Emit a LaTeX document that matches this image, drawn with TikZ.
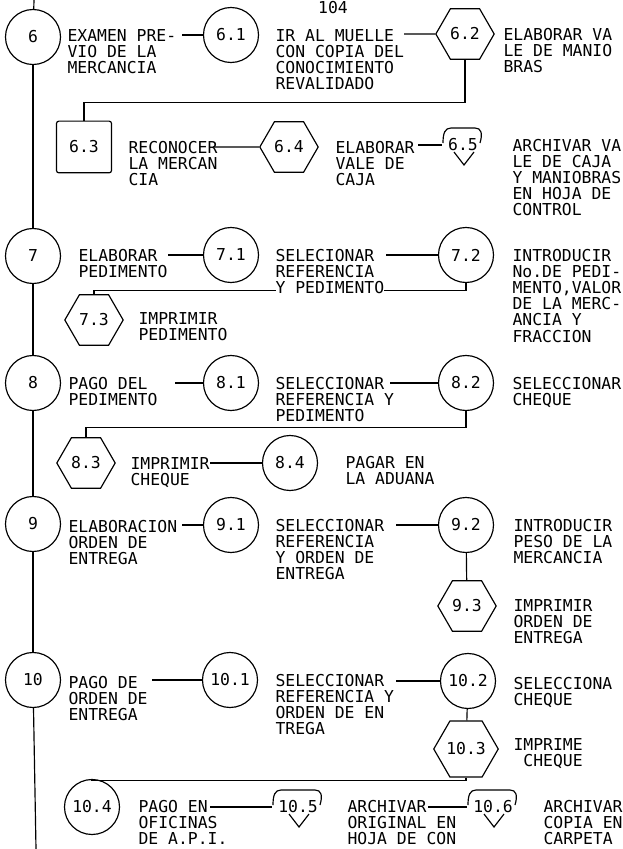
\documentclass[tikz,border=0pt]{standalone}
\usepackage{fontspec}
\setmainfont{DejaVu Sans Mono}
\usetikzlibrary{shapes.geometric}

\tikzset{
    paso/.style={circle, draw, minimum size=1.65cm, inner sep=0pt},
    hexa/.style={regular polygon, regular polygon sides=6, draw, minimum size=1.75cm, inner sep=0pt},
    caja/.style={rectangle, rounded corners=2pt, draw, minimum width=1.65cm, minimum height=1.55cm},
    texto/.style={anchor=north west, inner sep=0pt, align=left},
    marca/.style={inner sep=0pt, minimum width=1.2cm},
    archivo/.pic={
        \draw (-#1,-2) .. controls (-#1,-12) and (-#1+2,-17) .. (-#1+8,-17) -- (#1-8,-17)
              .. controls (#1-2,-17) and (#1,-12) .. (#1-3,-2);
        \draw (-9,7) -- (1,20) -- (11,7);
    }
}

\begin{document}
\begin{tikzpicture}[x=0.03cm, y=-0.03cm, line width=1pt, font=\fontsize{14}{13.7}\selectfont]
        \useasboundingbox (0,0) rectangle (623,849);

        \node at (333,8) (pag) {104};

        % paso 6
        \node[paso] at (33,37)   (p6)   {6};
        \node[paso] at (231,35)  (p61)  {6.1};
        \node[hexa] at (465,34)  (p62)  {6.2};
        \node[caja] at (84,147)  (p63)  {6.3};
        \node[hexa] at (289,147) (p64)  {6.4};
        \node[marca] at (463,145) (p65) {6.5};
        \pic at (p65) {archivo=20};

        \node[texto] at (67,29)   (t6)  {EXAMEN PRE-\\VIO DE LA\\MERCANCIA};
        \node[texto] at (275,29)  (t61) {IR AL MUELLE\\CON COPIA DEL\\CONOCIMIENTO\\REVALIDADO};
        \node[texto] at (503,28)  (t62) {ELABORAR VA\\LE DE MANIO\\BRAS};
        \node[texto] at (128,141) (t63) {RECONOCER\\LA MERCAN\\CIA};
        \node[texto] at (335,141) (t64) {ELABORAR\\VALE DE\\CAJA};
        \node[texto] at (512,139) (t65) {ARCHIVAR VA\\LE DE CAJA\\Y MANIOBRAS\\EN HOJA DE\\CONTROL};

        % paso 7
        \node[paso] at (33,256)  (p7)   {7};
        \node[paso] at (231,255) (p71)  {7.1};
        \node[paso] at (466,255) (p72)  {7.2};
        \node[hexa] at (94,320)  (p73)  {7.3};

        \node[texto] at (78,249)  (t7)  {ELABORAR\\PEDIMENTO};
        \node[texto] at (512,249) (t72) {INTRODUCIR\\No.DE PEDI-\\MENTO,VALOR\\DE LA MERC-\\ANCIA Y\\FRACCION};
        \node[texto] at (138,312) (t73) {IMPRIMIR\\PEDIMENTO};

        % paso 8
        \node[paso] at (33,383)  (p8)   {8};
        \node[paso] at (231,383) (p81)  {8.1};
        \node[paso] at (466,383) (p82)  {8.2};
        \node[hexa] at (86,463)  (p83)  {8.3};
        \node[paso] at (290,463) (p84)  {8.4};

        \node[texto] at (68,377)  (t8)  {PAGO DEL\\PEDIMENTO};
        \node[texto] at (275,377) (t81) {SELECCIONAR\\REFERENCIA Y\\PEDIMENTO};
        \node[texto] at (512,377) (t82) {SELECCIONAR\\CHEQUE};
        \node[texto] at (130,457) (t83) {IMPRIMIR\\CHEQUE};
        \node[texto] at (345,456) (t84) {PAGAR EN\\LA ADUANA};

        % paso 9
        \node[paso] at (33,524)  (p9)   {9};
        \node[paso] at (231,525) (p91)  {9.1};
        \node[paso] at (466,525) (p92)  {9.2};
        \node[hexa] at (467,606) (p93)  {9.3};

        \node[texto] at (68,520)  (t9)  {ELABORACION\\ORDEN DE\\ENTREGA};
        \node[texto] at (275,519) (t91) {SELECCIONAR\\REFERENCIA\\Y ORDEN DE\\ENTREGA};
        \node[texto] at (513,519) (t92) {INTRODUCIR\\PESO DE LA\\MERCANCIA};
        \node[texto] at (513,599) (t93) {IMPRIMIR\\ORDEN DE\\ENTREGA};

        % paso 10
        \node[paso] at (33,680)  (p10)  {10};
        \node[paso] at (230,680) (p101) {10.1};
        \node[paso] at (468,681) (p102) {10.2};
        \node[hexa] at (466,749) (p103) {10.3};
        \node[paso] at (92,807)  (p104) {10.4};
        \node[marca, minimum width=1.5cm] at (298,807) (p105) {10.5};
        \pic at (p105) {archivo=25};
        \node[marca, minimum width=1.5cm] at (493,807) (p106) {10.6};
        \pic at (p106) {archivo=25};

        \node[texto] at (68,676)  (t10)  {PAGO DE\\ORDEN DE\\ENTREGA};
        \node[texto] at (275,674) (t101) {SELECCIONAR\\REFERENCIA Y\\ORDEN DE EN\\TREGA};
        \node[texto] at (513,677) (t102) {SELECCIONA\\CHEQUE};
        \node[texto] at (513,738) (t103) {IMPRIME\\~CHEQUE};
        \node[texto] at (138,800) (t104) {PAGO EN\\OFICINAS\\DE A.P.I.};
        \node[texto] at (347,800) (t105) {ARCHIVAR\\ORIGINAL EN\\HOJA DE CON};
        \node[texto] at (543,800) (t106) {ARCHIVAR\\COPIA EN\\CARPETA};

        % linea principal
        \coordinate (arriba) at (34,0);
        \coordinate (abajo)  at (36,849);
        \draw (arriba) -- (p6);
        \draw (p6) -- (p7);
        \draw (p7) -- (p8);
        \draw (p8) -- (p9);
        \draw (p9) -- (p10);
        \draw (p10) -- (abajo);

        % extremos libres
        \coordinate (e6)   at (182,35);
        \coordinate (e61)  at (404,34);
        \coordinate (e63)  at (213,147);
        \coordinate (e64)  at (418,145);
        \coordinate (e7)   at (168,255);
        \coordinate (e71)  at (386,255);
        \coordinate (e8)   at (175,383);
        \coordinate (e81)  at (390,383);
        \coordinate (e83)  at (210,463);
        \coordinate (e9)   at (182,525);
        \coordinate (e91)  at (396,525);
        \coordinate (e10)  at (152,680);
        \coordinate (e101) at (396,681);
        \coordinate (e104) at (210,807);
        \coordinate (e105) at (428,807);

        \draw  (e6) -- (p61);
        \draw  (e61) -- (p62);
        \draw  (p62.south) -- ++(0,43) -| (p63.north);
        \draw  (e63) -- (p64);
        \draw  (e64) -- (p65);

        \draw  (e7) -- (p71);
        \draw  (e71) -- (p72);
        \draw  (p72.south) -- ++(0,7) -| (p73.north);

        \draw  (e8) -- (p81);
        \draw  (e81) -- (p82);
        \draw  (p82.south) -- ++(0,16) -| (p83.north);
        \draw  (e83) -- (p84);

        \draw  (e9) -- (p91);
        \draw  (e91) -- (p92);
        \draw  (p92) -- (p93);

        \draw  (e10) -- (p101);
        \draw  (e101) -- (p102);
        \draw  (p102) -- (p103);
        \draw  (p103.south) -- ++(0,3) -| (p104.north);
        \draw  (e104) -- (p105);
        \draw  (e105) -- (p106);

        % texto encima de la linea
        \node[texto, fill=white] at (275,249) (t71) {SELECIONAR\\REFERENCIA\\Y PEDIMENTO};

    \end{tikzpicture}
\end{document}
